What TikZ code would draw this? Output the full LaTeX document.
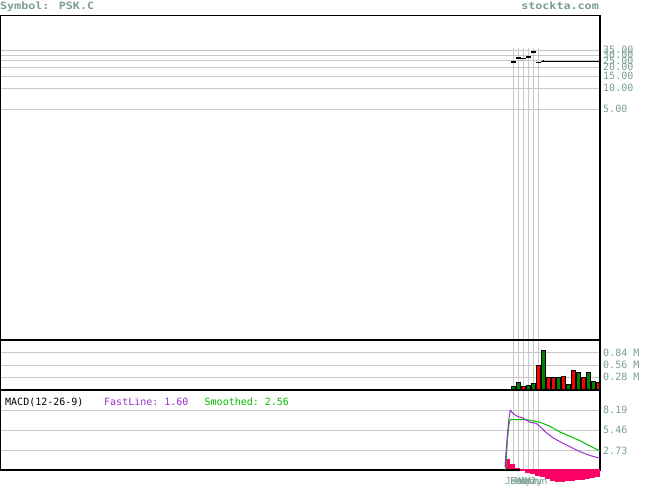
\documentclass[tikz,border=0pt]{standalone}
\usepackage{fontspec}
\setmonofont{DejaVu Sans Mono}
\newfontfamily\titlefont{DejaVu Sans Mono Bold}[FakeStretch=1.17]
\definecolor{txtgray}{RGB}{120,160,140}
\definecolor{gridgray}{RGB}{200,200,200}
\definecolor{volg}{RGB}{0,128,0}
\definecolor{volr}{RGB}{255,0,0}
\definecolor{fastc}{RGB}{153,51,204}
\definecolor{smoothc}{RGB}{0,190,0}
\definecolor{histc}{RGB}{255,0,102}
\begin{document}
\begin{tikzpicture}[x=1pt,y=-1pt,
  gridline/.style={draw=gridgray,line width=0.9pt},
  frameline/.style={draw=black,line width=1.4pt},
  axlabel/.style={anchor=west,inner sep=0pt,text=txtgray,font=\ttfamily\fontsize{10}{10}\selectfont},
  datelabel/.style={anchor=base west,inner sep=0pt,text=txtgray,font=\ttfamily\fontsize{9.5}{10}\selectfont},
  titletext/.style={inner sep=0pt,text=txtgray,font=\titlefont\fontsize{10}{10}\selectfont},
  macdtext/.style={anchor=base west,inner sep=0pt,font=\ttfamily\fontsize{10}{10}\selectfont},
  pricebar/.style={fill=black},
  volbar/.style={draw=black,line width=0.5pt},
  fastline/.style={draw=fastc,line width=1pt},
  smoothline/.style={draw=smoothc,line width=1pt},
  histbar/.style={fill=histc}]
\useasboundingbox (0,0) rectangle (655,486);
\fill[white] (0,0) rectangle (655,486);

% title
\node[titletext,anchor=base west] (sym) at (0,10) {Symbol: PSK.C};
\node[titletext,anchor=base east] (site) at (599,10) {stockta.com};

% horizontal grid lines
\foreach \y in {50.3,55,60.5,67.3,76,88.3,109.3} \draw[gridline] (0,\y) -- (600,\y);
\foreach \y in {352.7,365,377.3} \draw[gridline] (0,\y) -- (600,\y);
\foreach \y in {410,430.3,450.7} \draw[gridline] (0,\y) -- (600,\y);
% vertical grid lines
\foreach \x in {513,518,523,528,533,538} \draw[gridline] (\x,48) -- (\x,470);

% price axis labels
\node[axlabel] (p35) at (603,50.3) {35.00};
\node[axlabel] (p30) at (603,55) {30.00};
\node[axlabel] (p25) at (603,60.5) {25.00};
\node[axlabel] (p20) at (603,67.3) {20.00};
\node[axlabel] (p15) at (603,76) {15.00};
\node[axlabel] (p10) at (603,88.3) {10.00};
\node[axlabel] (p05) at (603,109.3) {5.00};
% volume axis labels
\node[axlabel] (v84) at (603,352.7) {0.84 M};
\node[axlabel] (v56) at (603,365) {0.56 M};
\node[axlabel] (v28) at (603,377.3) {0.28 M};
% macd axis labels
\node[axlabel] (m819) at (603,410) {8.19};
\node[axlabel] (m546) at (603,430.3) {5.46};
\node[axlabel] (m273) at (603,450.7) {2.73};

% price bars
\fill[pricebar] (511,61) rectangle (516,63);
\fill[pricebar] (516,57) rectangle (521,59);
\fill[pricebar] (521,57.6) rectangle (526,58.6);
\fill[pricebar] (526,56) rectangle (531,58);
\fill[pricebar] (531,51) rectangle (536,53);
\fill[pricebar] (536,61.6) rectangle (541,62.6);
\fill[pricebar] (542.5,59.8) rectangle (543.5,61);
\fill[pricebar] (541,60.6) rectangle (600,61.8);

% volume bars
\foreach \x/\t/\c in {511/386.3/volg, 516/382.3/volg, 521/386.7/volr, 526/385.3/volg, 531/383.3/volg, 536/365.3/volr, 541/350.3/volg, 546/377.3/volr, 551/377.3/volr, 556/377.3/volg, 561/376.3/volr, 566/384.3/volg, 571/370.3/volr, 576/372.3/volg, 581/377.3/volr, 586/372.3/volg, 591/381.3/volg, 596/382.3/volr}
  \filldraw[volbar,fill=\c] (\x+0.4,\t) rectangle (\x+4.6,390);

% macd positive histogram
\foreach \x/\v in {505/458.5, 510/464, 515/467.5}
  \fill[histbar] (\x,470) rectangle (\x+5,\v);

% frames
\draw[frameline] (0.7,15.5) rectangle (600,470);
\draw[frameline] (0,340) -- (600,340);
\draw[frameline] (0,390) -- (600,390);

% macd negative histogram
\foreach \x/\v in {520/471, 525/473, 530/474, 535/475.5, 540/477, 545/479, 550/480.5, 555/481.5, 560/481.5, 565/481, 570/480.5, 575/480, 580/479.5, 585/478.5, 590/478, 595/477}
  \fill[histbar] (\x,469.3) rectangle (\x+5,\v);

% macd lines
\draw[smoothline] (505.7,470) -- (506.5,455) -- (507.5,440) -- (508.5,428) -- (509.5,421) -- (510.5,419.5) -- (525,419.5) -- (530,420.3) -- (540,422.3) -- (550,426.3) -- (560,432) -- (570,436.3) -- (580,440.7) -- (590,446) -- (600,451);
\draw[fastline] (505,467) -- (506,452) -- (507,440) -- (508,428) -- (509,418) -- (510.3,410.3) -- (513,413.5) -- (516.7,416) -- (523.3,418.3) -- (530,422.3) -- (536,423.3) -- (540,426.5) -- (546.7,433) -- (553.3,438) -- (560,441.7) -- (570,446.7) -- (580,451.7) -- (590,455.5) -- (600,458.3);

% macd labels
\node[macdtext] (mlab) at (5,405.7) {MACD(12-26-9)};
\node[macdtext,text=fastc] (flab) at (104,405.7) {FastLine: 1.60};
\node[macdtext,text=smoothc] (slab) at (204.5,405.7) {Smoothed: 2.56};

% date labels
\node[datelabel] (d1) at (505,484.3) {Jan};
\node[datelabel] (d2) at (510,484.3) {Feb};
\node[datelabel] (d3) at (515,484.3) {Mar};
\node[datelabel] (d4) at (520,484.3) {Apr};
\node[datelabel] (d5) at (525,484.3) {May};
\node[datelabel] (d6) at (530,484.3) {Jun};
\end{tikzpicture}
\end{document}
